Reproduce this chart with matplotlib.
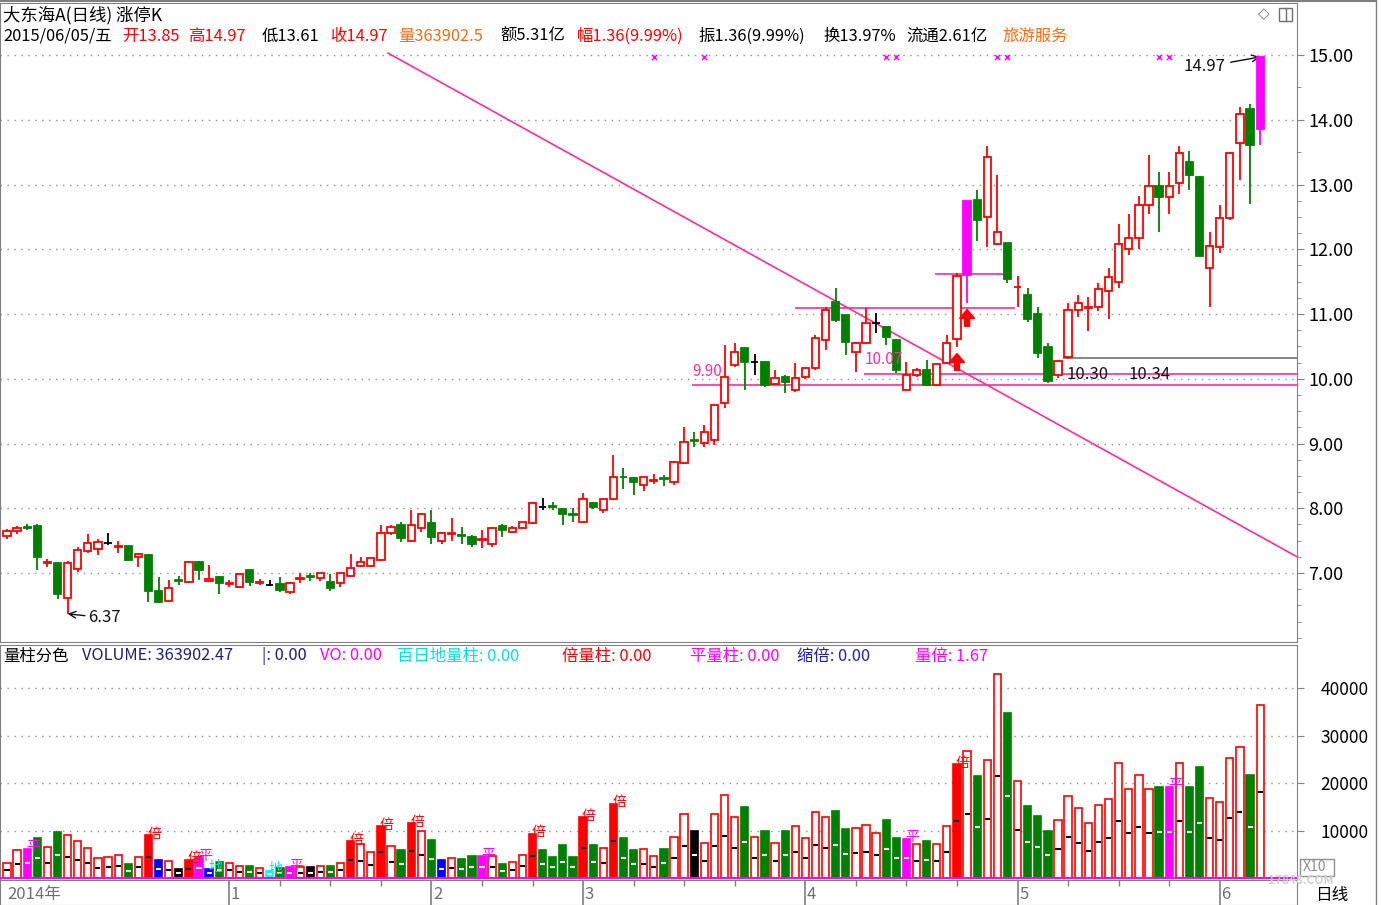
import matplotlib
matplotlib.use("Agg")
import matplotlib.pyplot as plt
import matplotlib.transforms as mtransforms
from matplotlib.patches import Rectangle, FancyArrow
from matplotlib.lines import Line2D

plt.rcParams['font.family'] = ['Noto Sans CJK SC', 'DejaVu Sans']

# daily bars 2014-12-02 .. 2015-06-05
opens = [7.57, 7.65, 7.71, 7.73, 7.16, 7.15, 6.62, 7.06, 7.34, 7.37,
         7.46, 7.40, 7.41, 7.25, 7.28, 6.72, 6.57, 6.89, 6.86, 7.17,
         6.88, 6.94, 6.83, 6.78, 7.05, 6.85, 6.81, 6.83, 6.71, 6.91,
         6.95, 6.92, 6.86, 6.84, 6.95, 7.11, 7.11, 7.20, 7.62, 7.74,
         7.50, 7.69, 7.77, 7.50, 7.61, 7.58, 7.56, 7.51, 7.45, 7.73,
         7.63, 7.70, 7.77, 8.02, 8.03, 7.99, 7.91, 7.79, 8.08, 7.97,
         8.14, 8.49, 8.47, 8.36, 8.42, 8.46, 8.41, 8.70, 9.05, 9.01,
         9.05, 9.62, 10.21, 10.47, 10.26, 10.26, 9.92, 10.03, 9.83, 10.03,
         10.17, 10.60, 11.19, 10.98, 10.41, 10.55, 10.86, 10.80, 10.60, 9.83,
         10.06, 10.14, 9.90, 10.24, 10.62, 11.60, 12.76, 12.50, 12.08, 12.09,
         11.41, 11.29, 11.00, 10.49, 10.06, 10.34, 11.06, 11.10, 11.11, 11.36,
         11.50, 12.01, 12.17, 12.68, 12.98, 12.81, 13.03, 13.35, 13.12, 11.71,
         12.04, 12.48, 13.64, 14.17, 13.85]
highs = [7.68, 7.72, 7.76, 7.75, 7.22, 7.16, 7.18, 7.40, 7.60, 7.52,
         7.62, 7.49, 7.42, 7.31, 7.29, 6.94, 6.89, 6.95, 7.19, 7.18,
         7.12, 6.95, 6.89, 6.99, 7.06, 6.91, 6.89, 6.94, 6.86, 7.00,
         7.00, 7.00, 6.98, 7.00, 7.29, 7.25, 7.23, 7.74, 7.74, 7.78,
         7.97, 7.93, 7.97, 7.64, 7.85, 7.71, 7.58, 7.66, 7.71, 7.76,
         7.73, 7.79, 8.10, 8.16, 8.10, 8.00, 8.00, 8.24, 8.10, 8.15,
         8.82, 8.62, 8.48, 8.49, 8.53, 8.51, 8.73, 9.25, 9.18, 9.28,
         9.60, 10.52, 10.55, 10.48, 10.38, 10.28, 10.13, 10.06, 10.24, 10.18,
         10.68, 11.11, 11.40, 10.99, 10.56, 11.09, 11.01, 10.82, 10.61, 10.26,
         10.17, 10.29, 10.24, 10.68, 11.63, 12.74, 12.92, 13.59, 13.15, 12.10,
         11.58, 11.40, 11.11, 10.55, 10.29, 11.17, 11.29, 11.27, 11.48, 11.71,
         12.39, 12.54, 12.82, 13.46, 13.20, 13.20, 13.59, 13.51, 13.13, 12.27,
         12.68, 13.50, 14.20, 14.24, 14.97]
lows = [7.52, 7.60, 7.66, 7.05, 7.10, 6.60, 6.37, 7.02, 7.31, 7.28,
        7.43, 7.31, 7.19, 7.09, 6.55, 6.53, 6.56, 6.82, 6.84, 6.89,
        6.86, 6.68, 6.78, 6.77, 6.80, 6.81, 6.80, 6.71, 6.68, 6.84,
        6.88, 6.88, 6.72, 6.78, 6.94, 7.09, 7.09, 7.19, 7.58, 7.48,
        7.48, 7.63, 7.45, 7.45, 7.50, 7.45, 7.40, 7.38, 7.40, 7.56,
        7.62, 7.69, 7.76, 7.97, 7.97, 7.74, 7.79, 7.78, 7.99, 7.93,
        8.13, 8.30, 8.20, 8.27, 8.37, 8.34, 8.36, 8.69, 8.95, 8.95,
        8.98, 9.55, 10.18, 9.83, 10.06, 9.87, 9.90, 9.78, 9.80, 9.99,
        10.13, 10.44, 10.88, 10.37, 10.10, 10.54, 10.71, 10.52, 10.09, 9.83,
        10.03, 9.89, 9.89, 10.23, 10.49, 11.17, 12.12, 12.04, 12.06, 11.48,
        11.11, 10.87, 10.32, 9.93, 10.01, 10.30, 10.96, 10.73, 11.04, 10.93,
        11.40, 11.91, 12.00, 12.55, 12.27, 12.55, 12.86, 12.92, 11.89, 11.11,
        11.94, 12.45, 13.07, 12.70, 13.61]
closes = [7.65, 7.70, 7.70, 7.25, 7.17, 6.68, 7.15, 7.36, 7.46, 7.48,
          7.46, 7.41, 7.20, 7.30, 6.72, 6.55, 6.77, 6.88, 7.17, 7.05,
          6.91, 6.84, 6.84, 6.98, 6.86, 6.86, 6.81, 6.74, 6.85, 6.92,
          6.94, 7.00, 6.77, 7.00, 7.08, 7.17, 7.23, 7.62, 7.71, 7.54,
          7.74, 7.91, 7.56, 7.62, 7.62, 7.57, 7.45, 7.52, 7.70, 7.66,
          7.69, 7.78, 8.08, 8.02, 8.02, 7.91, 7.90, 8.14, 8.02, 8.14,
          8.48, 8.48, 8.41, 8.48, 8.43, 8.45, 8.72, 9.02, 9.04, 9.18,
          9.59, 10.02, 10.41, 10.26, 10.26, 9.90, 10.01, 9.95, 10.01, 10.17,
          10.63, 11.06, 10.91, 10.57, 10.55, 10.86, 10.86, 10.64, 10.14, 10.06,
          10.14, 9.90, 10.23, 10.55, 11.58, 12.74, 12.45, 13.43, 12.27, 11.54,
          11.42, 10.92, 10.40, 9.97, 10.28, 11.06, 11.17, 11.11, 11.38, 11.57,
          12.08, 12.17, 12.68, 12.98, 12.81, 12.98, 13.49, 13.15, 11.90, 12.05,
          12.49, 13.49, 14.09, 13.61, 14.97]
limit_up = [95, 124]

volumes = [3180, 5790, 6140, 8400, 6490, 9670, 8960, 7690, 6420, 4160,
           4520, 4870, 2960, 4520, 8960, 3880, 3530, 1980, 3880, 4380,
           1980, 3320, 3180, 2470, 2610, 2190, 1550, 2050, 2260, 2260,
           2260, 2610, 2610, 3180, 7690, 7060, 5430, 10870, 6700, 5790,
           11570, 9810, 8040, 3880, 4230, 3950, 4590, 4590, 4590, 2960,
           3320, 4940, 9320, 5790, 4520, 6850, 4520, 12840, 6850, 6420,
           15670, 8400, 5790, 6070, 4730, 6140, 8610, 13410, 9880, 7340,
           13410, 17500, 12840, 14960, 8610, 9880, 7340, 9880, 10940, 8400,
           13970, 12770, 14040, 10230, 10520, 11150, 9530, 12140, 8400, 8260,
           7060, 7760, 7060, 10940, 23920, 26750, 21450, 24840, 42910, 34720,
           20400, 15100, 13130, 9880, 12140, 17220, 14750, 11570, 15310, 16660,
           24140, 18840, 21670, 18840, 19200, 19200, 24140, 19200, 23290, 16940,
           15950, 25190, 27660, 21670, 36390]
# r hollow red, R red, g green, m magenta, b blue, k black, c cyan
vol_kind = ("rrmgrgrrrr" "rrgrRbrkRm" "bgrrgrcgmr" "krgrRrrRrg" "Rrgbrggmrg"
            "rrRggggRgr" "Rggrrgrrkr" "rrrgrgrgrr" "rrggrrrggm" "rgrrRrgrrg"
            "rgggrrrrrr" "rrrrgmrggr" "rrrgr")
bei_bars = [14, 18, 34, 37, 40, 52, 57, 60, 94]
ping_bars = [2, 19, 28, 47, 89, 115]
di_bars = [20, 26]
signal_marks = [64, 69, 87, 88, 98, 99, 114, 115]

month_starts = [22, 42, 57, 79, 100, 120]
month_labels = ['1', '2', '3', '4', '5', '6']
price_ticks = [7, 8, 9, 10, 11, 12, 13, 14, 15]
vol_ticks = [10000, 20000, 30000, 40000]

RED, GREEN, MAG, PINK = '#ff0000', '#008000', '#ff00ff', '#ff2d95'
GRID = dict(linestyle=(0, (1, 4)), color='#909090', linewidth=1)
kind_color = {'r': RED, 'R': RED, 'g': GREEN, 'm': MAG, 'b': '#0000ff',
              'k': '#000000', 'c': '#00ffff'}

W, H = 1381, 905
fig = plt.figure(figsize=(W / 100, H / 100), dpi=100)


def box(x0, y0, x1, y1):
    return [x0 / W, 1 - y1 / H, (x1 - x0) / W, (y1 - y0) / H]


def ftext(px, py, s, **kw):
    fig.text(px / W, 1 - py / H, s, va='center', **kw)


xlim = (-7 / 10.106, (1297 - 7) / 10.106)
ax = fig.add_axes(box(0, 3, 1297, 642))
axv = fig.add_axes(box(0, 645, 1297, 880))
axd = fig.add_axes(box(0, 880, 1297, 905))

for a in (ax, axv, axd):
    a.set_xlim(*xlim)
    a.set_xticks([])
    for s in a.spines.values():
        s.set_color('#808080')

# ---------------- price panel ----------------
ax.set_ylim(15 - 587 / 64.75, 15 + 52 / 64.75)
ax.yaxis.tick_right()
ax.set_yticks(price_ticks)
ax.set_yticklabels(['%.2f' % p for p in price_ticks])
ax.set_yticks([p / 4 for p in range(24, 61) if p / 4 < 13 or p % 2 == 0], minor=True)
ax.tick_params(axis='y', which='major', length=5, color='#808080', labelsize=13, pad=3)
ax.tick_params(axis='y', which='minor', length=3, color='#808080')
ax.yaxis.grid(True, which='major', **GRID)
ax.set_axisbelow(True)

for i in range(len(opens)):
    o, h, l, c = opens[i], highs[i], lows[i], closes[i]
    if i in limit_up:
        col, face = MAG, MAG
    elif c > o:
        col, face = RED, 'white'
    elif c < o:
        col, face = GREEN, GREEN
    else:
        col, face = '#000000', '#000000'
    top, bot = max(o, c), min(o, c)
    ax.vlines(i, top, h, color=col, lw=1.3, zorder=3)
    ax.vlines(i, l, bot, color=col, lw=1.3, zorder=3)
    ax.add_patch(Rectangle((i - 0.36, bot), 0.72, max(top - bot, 0.005),
                           facecolor=face, edgecolor=col, lw=1.3, zorder=4))

# trend / support lines
ax.plot([37.7, xlim[1]], [15.03, 7.25], color=PINK, lw=1.2, zorder=2)
for x0, x1, y, col in [(67.8, xlim[1], 9.90, PINK), (84.8, xlim[1], 10.07, PINK),
                       (104.5, xlim[1], 10.32, '#707070'), (78.0, 99.7, 11.10, PINK),
                       (91.8, 98.8, 11.62, PINK)]:
    ax.hlines(y, x0, x1, color=col, lw=1.2, zorder=2)

ax.text(67.8, 9.98, '9.90', color=PINK, fontsize=11, va='bottom', zorder=6)
ax.text(84.9, 10.16, '10.07', color=PINK, fontsize=11, va='bottom', zorder=6)
ax.text(104.8, 10.06, '10.30', color='#111111', fontsize=12, va='center', zorder=6)
ax.text(111.0, 10.06, '10.34', color='#111111', fontsize=12, va='center', zorder=6)

ax.annotate('6.37', xy=(6, lows[6]), xytext=(20, -4), textcoords='offset pixels',
            fontsize=12, va='center', ha='left', color='#111111',
            arrowprops=dict(arrowstyle='->', color='#111111', lw=1, shrinkA=0, shrinkB=0))
ax.annotate('14.97', xy=(124, highs[124]), xytext=(-35, -10), textcoords='offset pixels',
            fontsize=12, va='center', ha='right', color='#111111',
            arrowprops=dict(arrowstyle='->', color='#111111', lw=1, shrinkA=2, shrinkB=0))

for i in (94, 95):
    ax.add_patch(FancyArrow(i, lows[i] - 0.36, 0, 0.26, width=0.5, head_width=1.5,
                            head_length=0.14, color=RED, length_includes_head=True, zorder=5))

tr = mtransforms.blended_transform_factory(ax.transData, ax.transAxes)
ax.scatter(signal_marks, [0.915] * len(signal_marks), marker='x', s=14, lw=1,
           color=MAG, transform=tr, zorder=5)

# ---------------- volume panel ----------------
axv.set_ylim(-421, 49053)
axv.yaxis.tick_right()
axv.set_yticks(vol_ticks)
axv.set_yticklabels([str(v) for v in vol_ticks])
axv.tick_params(axis='y', length=5, color='#808080', labelsize=12.5, pad=12)
axv.yaxis.grid(True, **GRID)
axv.set_axisbelow(True)
for i, v in enumerate(volumes):
    k = vol_kind[i]
    col = kind_color[k]
    face = 'white' if k == 'r' else col
    axv.add_patch(Rectangle((i - 0.36, 0), 0.72, v, facecolor=face, edgecolor=col,
                            lw=1.2, zorder=3))
    dash = '#000000' if k in 'rR' else 'white'
    axv.hlines(v / 2, i - 0.25, i + 0.25, color=dash, lw=1.5, zorder=4)
axv.axhline(0, color=MAG, lw=1.5, zorder=5)
for bars, s, col in [(bei_bars, '倍', RED), (ping_bars, '平', MAG), (di_bars, '地', '#00e5e5')]:
    for i in bars:
        axv.text(i - 0.1, volumes[i] + 300, s, color=col, fontsize=10, ha='left',
                 va='center', zorder=6)

# ---------------- date strip ----------------
axd.set_ylim(0, 1)
axd.set_yticks([])
axd.vlines(month_starts, 0, 1, color='#808080', lw=1.2)
minor = [m + d for m, nxt in zip(month_starts, month_starts[1:] + [125])
         for d in (5, 10, 15) if m + d < nxt - 1]
axd.vlines(minor, 0.75, 1, color='#808080', lw=1)
axd.text(0.0, 0.42, '2014年', color='#707070', fontsize=12, va='center')
for m, lab in zip(month_starts, month_labels):
    axd.text(m + 0.15, 0.42, lab, color='#707070', fontsize=12, va='center')

# ---------------- header texts ----------------
ftext(3, 15, '大东海A(日线) 涨停K', fontsize=12.5, color='#000000')
for px, s, col in [(3, '2015/06/05/五', '#000000'), (122, '开13.85', RED),
                   (188, '高14.97', RED), (262, '低13.61', '#000000'),
                   (330, '收14.97', RED), (398, '量363902.5', '#e8701a'),
                   (500, '额5.31亿', '#000000'), (577, '幅1.36(9.99%)', RED),
                   (698, '振1.36(9.99%)', '#000000'), (823, '换13.97%', '#000000'),
                   (906, '流通2.61亿', '#000000'), (1002, '旅游服务', '#ff6a10')]:
    ftext(px, 36, s, fontsize=11.8, color=col)

for px, s, col in [(3, '量柱分色', '#000000'), (82, 'VOLUME: 363902.47', '#20207a'),
                   (262, '|: 0.00', '#20207a'), (320, 'VO: 0.00', MAG),
                   (397, '百日地量柱: 0.00', '#00e0e0'), (562, '倍量柱: 0.00', RED),
                   (690, '平量柱: 0.00', MAG), (797, '缩倍: 0.00', '#2020c0'),
                   (915, '量倍: 1.67', MAG)]:
    ftext(px, 656, s, fontsize=11.8, color=col)

ftext(1258, 14, '◇', fontsize=11, color='#707070', family=['DejaVu Sans'])
fig.add_artist(Rectangle((1279 / W, 1 - 21 / H), 13 / W, 13 / H, transform=fig.transFigure,
                         fill=False, edgecolor='#707070', lw=1))
fig.add_artist(Line2D([1285.5 / W] * 2, [1 - 21 / H, 1 - 8 / H], color='#707070', lw=1))

# right column bits
fig.add_artist(Line2D([1376 / W] * 2, [0, 1], color='#808080', lw=1))
fig.add_artist(Line2D([0, 1376 / W], [1 - 1 / H] * 2, color='#808080', lw=1.5))
fig.add_artist(Rectangle((1300 / W, 1 - 876 / H), 34 / W, 17 / H, transform=fig.transFigure,
                         fill=False, edgecolor='#909090', lw=1))
ftext(1303, 867, 'X10', fontsize=10, color='#909090')
ftext(1268, 880, '17848.COM', fontsize=8.5, color='#d0d0d0', weight='bold')
ftext(1315, 895, '日线', fontsize=12, color='#000000')

fig.savefig('out.png', dpi=100)
